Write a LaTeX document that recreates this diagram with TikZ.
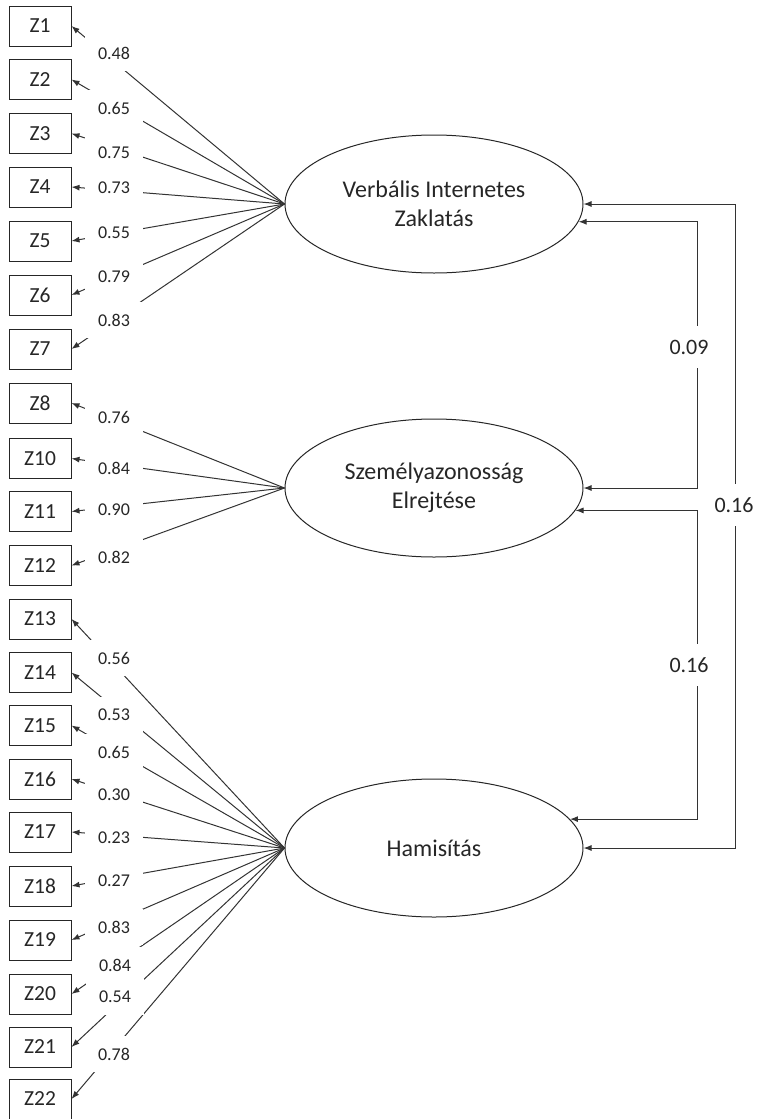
\documentclass[tikz,border=0pt]{standalone}
\usepackage{fontspec}
\setmainfont{Carlito}
\usetikzlibrary{shapes.geometric,arrows.meta}
\begin{document}
\begin{tikzpicture}[x=1pt,y=-1pt,
  box/.style={draw=black!85, line width=1pt, minimum width=62pt, minimum height=40pt, inner sep=0pt, font=\fontsize{21.5}{25}\selectfont, text=black!85},
  lat/.style={ellipse, draw=black!85, line width=1pt, minimum width=298pt, minimum height=138pt, inner sep=0pt, align=center, font=\fontsize{24}{29}\selectfont, text=black!85},
  ld/.style={fill=white, minimum width=58pt, minimum height=36pt, inner sep=0pt, font=\fontsize{18}{20}\selectfont, text=black!85},
  cr/.style={fill=white, minimum height=42pt, inner sep=1pt, font=\fontsize{22}{24}\selectfont, text=black!85},
  load/.style={draw=black!80, line width=1pt, -{Latex[length=8pt,width=6pt]}},
  cov/.style={draw=black!80, line width=1pt, {Latex[length=8pt,width=6pt]}-{Latex[length=8pt,width=6pt]}}
]
\useasboundingbox (0,0) rectangle (757,1119);
% latent variables
\node[lat] (ver) at (434,204) {Verbális Internetes\\Zaklatás};
\node[lat] (sze) at (434,488) {Személyazonosság\\Elrejtése};
\node[lat] (ham) at (434,848) {Hamisítás};
% indicators
\node[box] (z1) at (40,26) {Z1};
\node[box] (z2) at (40,79.5) {Z2};
\node[box] (z3) at (40,133.5) {Z3};
\node[box] (z4) at (40,187) {Z4};
\node[box] (z5) at (40,241) {Z5};
\node[box] (z6) at (40,295) {Z6};
\node[box] (z7) at (40,349) {Z7};
\node[box] (z8) at (40,403) {Z8};
\node[box] (z10) at (40,458.5) {Z10};
\node[box] (z11) at (40,511.5) {Z11};
\node[box] (z12) at (40,565.5) {Z12};
\node[box] (z13) at (40,619) {Z13};
\node[box] (z14) at (40,672.5) {Z14};
\node[box] (z15) at (40,725.5) {Z15};
\node[box] (z16) at (40,779) {Z16};
\node[box] (z17) at (40,832) {Z17};
\node[box] (z18) at (40,886) {Z18};
\node[box] (z19) at (40,940) {Z19};
\node[box] (z20) at (40,994) {Z20};
\node[box] (z21) at (40,1047) {Z21};
\node[box] (z22) at (40,1099) {Z22};
% loadings
\foreach \z in {z1,z2,z3,z4,z5,z6,z7}{\draw[load] (ver.west) -- (\z.east);}
\foreach \z in {z8,z10,z11,z12}{\draw[load] (sze.west) -- (\z.east);}
\foreach \z in {z13,z14,z15,z16,z17,z18,z19,z20,z21,z22}{\draw[load] (ham.west) -- (\z.east);}
\node[ld] (l1) at (114,53) {0.48};
\node[ld] (l2) at (114,108) {0.65};
\node[ld] (l3) at (114,153) {0.75};
\node[ld] (l4) at (114,188) {0.73};
\node[ld] (l5) at (114,233) {0.55};
\node[ld] (l6) at (114,277) {0.79};
\node[ld] (l7) at (114,320) {0.83};
\node[ld] (l8) at (114,417) {0.76};
\node[ld] (l10) at (114,468) {0.84};
\node[ld] (l11) at (114,510) {0.90};
\node[ld] (l12) at (114,557) {0.82};
\node[ld] (l13) at (114,658) {0.56};
\node[ld] (l14) at (114,715) {0.53};
\node[ld] (l15) at (114,752) {0.65};
\node[ld] (l16) at (114,795) {0.30};
\node[ld] (l17) at (114,838) {0.23};
\node[ld] (l18) at (114,881) {0.27};
\node[ld] (l19) at (114,927) {0.83};
\node[ld] (l20) at (115,965) {0.84};
\node[ld] (l21) at (115,997) {0.54};
\node[ld] (l22) at (114,1054) {0.78};
% covariances
\coordinate (c1) at (697,0);
\coordinate (c2) at (735,0);
\draw[cov] (ver.-7.1) -- (ver.-7.1 -| c1) -- (sze.east -| c1) -- (sze.east);
\draw[cov] (sze.-9.3) -- (sze.-9.3 -| c1) -- (ham.12.1 -| c1) -- (ham.12.1);
\draw[cov] (ver.east) -- (ver.east -| c2) -- (ham.east -| c2) -- (ham.east);
\node[cr] (r1) at (689,347) {0.09};
\node[cr] (r2) at (689,665) {0.16};
\node[cr] (r3) at (734,505) {0.16};
\end{tikzpicture}
\end{document}
